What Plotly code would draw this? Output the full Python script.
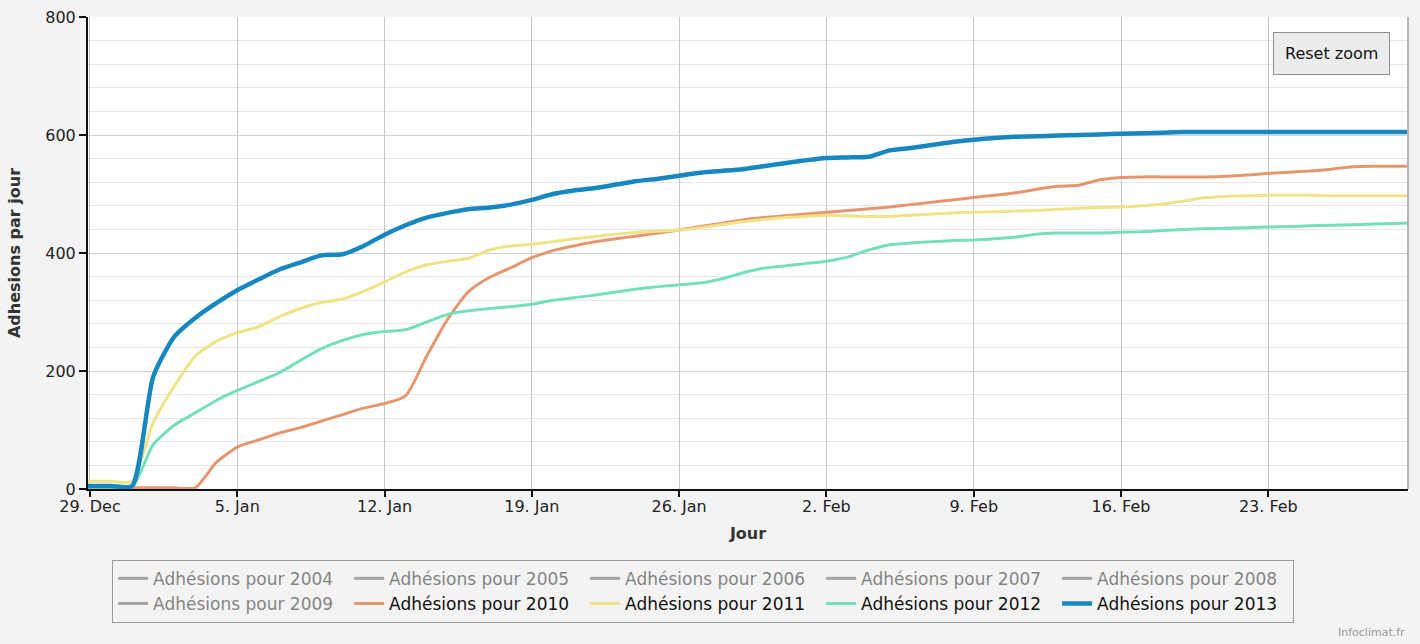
import pandas as pd
import plotly.graph_objects as go

# Days from 28 Dec 2012 to 2 Mar 2013 (daily cumulative counts)
start_date = "2012-12-28"
n_days = 65

adh_2010 = [2, 2, 2, 2, 2, 2, 2, 45, 71, 83, 95, 104, 115, 126, 137, 145, 158, 225, 288, 335,
            359, 375, 392, 404, 412, 419, 424, 429, 434, 439, 445, 450, 456, 460, 463, 466, 469,
            472, 475, 478, 482, 486, 490, 494, 498, 502, 508, 513, 515, 524, 528, 529, 529, 529,
            529, 530, 532, 535, 537, 539, 542, 546, 547, 547, 547]
adh_2011 = [13, 13, 13, 13, 112, 174, 225, 250, 265, 275, 292, 306, 316, 322, 335, 351, 368, 380,
            386, 391, 405, 412, 415, 419, 424, 428, 432, 435, 437, 439, 443, 448, 453, 457, 460,
            462, 464, 463, 462, 462, 464, 466, 468, 469, 470, 471, 472, 474, 476, 477, 478, 480,
            483, 488, 494, 496, 497, 498, 498, 498, 497, 497, 497, 497, 497]
adh_2012 = [3, 3, 3, 3, 75, 108, 129, 150, 167, 182, 197, 218, 238, 252, 262, 267, 270, 283, 296,
            302, 306, 309, 313, 320, 324, 329, 334, 339, 343, 346, 349, 356, 366, 374, 378, 382,
            386, 393, 405, 414, 417, 419, 421, 422, 424, 427, 432, 434, 434, 434, 435, 436, 438,
            440, 441, 442, 443, 444, 445, 446, 447, 448, 449, 450, 451]
adh_2013 = [5, 5, 5, 5, 190, 258, 290, 315, 337, 355, 372, 384, 396, 398, 412, 431, 447, 460, 468,
            474, 477, 482, 490, 500, 506, 510, 516, 522, 526, 531, 536, 539, 542, 547, 552, 557,
            561, 562, 563, 574, 578, 583, 588, 592, 595, 597, 598, 599, 600, 601, 602, 603, 604,
            605, 605, 605, 605, 605, 605, 605, 605, 605, 605, 605, 605]

hidden_years = ["2004", "2005", "2006", "2007", "2008", "2009"]
shown_years = ["2010", "2011", "2012", "2013"]
shown_values = [adh_2010, adh_2011, adh_2012, adh_2013]
shown_colors = ["#e5966f", "#efe385", "#74dfb9", "#1787bf"]
shown_widths = [3, 3, 3, 4.5]

tick_dates = ["2012-12-29", "2013-01-05", "2013-01-12", "2013-01-19", "2013-01-26",
              "2013-02-02", "2013-02-09", "2013-02-16", "2013-02-23"]
tick_labels = ["29. Dec", "5. Jan", "12. Jan", "19. Jan", "26. Jan", "2. Feb", "9. Feb",
               "16. Feb", "23. Feb"]

dates = pd.date_range(start_date, periods=n_days, freq="D")

fig = go.Figure()
for yr in hidden_years:
    fig.add_trace(go.Scatter(x=[dates[0]], y=[None], mode="lines", name=f"Adhésions pour {yr}",
                             line=dict(color="#555555", width=3), visible="legendonly"))
for yr, vals, col, w in zip(shown_years, shown_values, shown_colors, shown_widths):
    fig.add_trace(go.Scatter(x=dates, y=vals, mode="lines", name=f"Adhésions pour {yr}",
                             line=dict(color=col, width=w, shape="spline", smoothing=0.6)))

fig.update_layout(
    width=1420, height=644,
    margin=dict(l=88, r=12, t=17, b=155, autoexpand=False),
    paper_bgcolor="#f3f3f3",
    plot_bgcolor="#ffffff",
    font=dict(family="DejaVu Sans", color="#222222", size=16),
    showlegend=True,
    legend=dict(
        orientation="h", x=0.466, xanchor="center", y=-0.150, yanchor="top",
        bordercolor="#9a9a9a", borderwidth=1, bgcolor="rgba(0,0,0,0)",
        font=dict(size=17, color="#111111"), entrywidth=191, entrywidthmode="pixels",
        tracegroupgap=0,
    ),
    xaxis=dict(
        range=["2012-12-28 21:45", "2013-03-01 15:20"],
        tickvals=tick_dates, ticktext=tick_labels,
        showgrid=True, gridcolor="#c6c6c6", gridwidth=1,
        showline=True, linecolor="#111111", linewidth=2,
        ticks="outside", ticklen=6, tickcolor="#111111", tickwidth=1.5,
        ticklabelstandoff=-4,
        tickfont=dict(size=16, color="#222222"),
        title=dict(text="<b>Jour</b>", font=dict(size=16, color="#333333"), standoff=13),
        zeroline=False, automargin=False,
    ),
    yaxis=dict(
        range=[0, 800], tickvals=[0, 200, 400, 600, 800],
        showgrid=True, gridcolor="#d0d0d0", gridwidth=1,
        minor=dict(dtick=40, tick0=0, showgrid=True, gridcolor="#e6e6e6", gridwidth=1),
        showline=True, linecolor="#111111", linewidth=2,
        ticks="outside", ticklen=7, tickcolor="#111111", tickwidth=1.5,
        tickfont=dict(size=16, color="#222222"),
        title=dict(text="<b>Adhesions par jour</b>", font=dict(size=16, color="#333333"),
                   standoff=21),
        zeroline=False, automargin=False,
    ),
    shapes=[
        dict(type="line", xref="paper", yref="paper", x0=1, x1=1, y0=0, y1=1,
             line=dict(color="#b5b5b5", width=2)),
    ],
    annotations=[
        dict(text="Reset zoom", xref="paper", yref="paper", x=0.9424, y=0.9237,
             xanchor="center", yanchor="middle",
             showarrow=False, font=dict(size=16, color="#111111"),
             bgcolor="#ececec", bordercolor="#8f8f8f", borderwidth=1, borderpad=11),
        dict(text="Infoclimat.fr", xref="paper", yref="paper", x=0.9727, y=-0.303,
             xanchor="center", yanchor="middle",
             showarrow=False, font=dict(size=11, color="#999999")),
    ],
)

fig.write_html(
    "out.html",
    config={"displayModeBar": False},
    post_script="document.body.style.margin='0';document.body.style.background='#f3f3f3';",
)
